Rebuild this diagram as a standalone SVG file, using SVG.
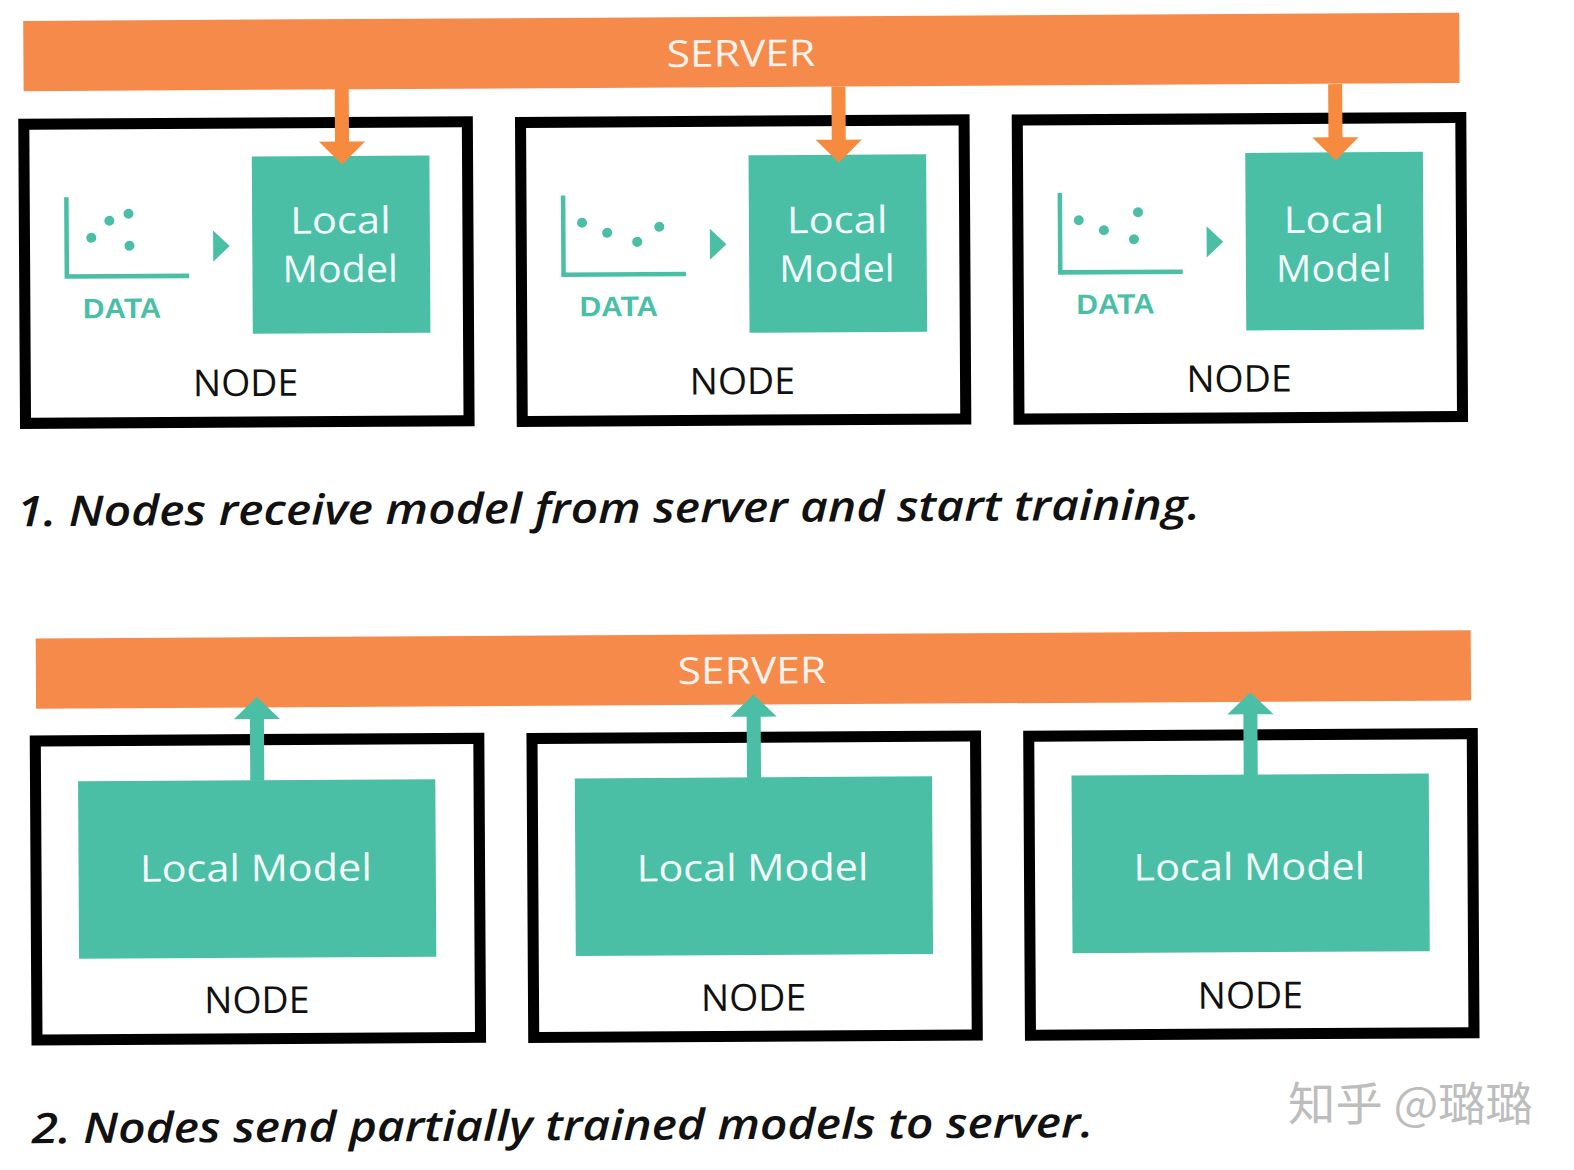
<svg xmlns="http://www.w3.org/2000/svg" width="1574" height="1170" viewBox="0 0 1574 1170">
<style>
text{font-family:"Open Sans","Noto Sans","Liberation Sans",sans-serif;text-anchor:middle}
.srv{fill:#f68a4a}.srvt{fill:#fdf3ec;font-size:37px}
.box{fill:#fff;stroke:#000;stroke-width:11}
.lm{fill:#4abfa6}.lmt{fill:#f2fbf8;font-size:37px}
.nt{fill:#111;font-size:37px}
.dt{fill:#4abfa6;font-family:"Liberation Sans",sans-serif;font-size:28px;font-weight:700}
.ax{fill:none;stroke:#4abfa6;stroke-width:4.5}
.dot,.tri{fill:#4abfa6}
.cap{fill:#111;font-size:42px;font-style:italic;font-weight:600;text-anchor:start}
.o{fill:#f68a3f}.g{fill:#4abfa6}
.wm{fill:#bdbdbd;font-family:"Noto Sans CJK SC","Noto Sans",sans-serif;font-size:46px;text-anchor:start}
</style>
<rect width="1574" height="1170" fill="#fff"/>
<g transform="scale(1.0035) rotate(-0.33)">
<g id="server-1"><rect class="srv" x="23" y="21" width="1431" height="70"/><text class="srvt" x="738" y="70.5" textLength="148" lengthAdjust="spacingAndGlyphs">SERVER</text></g>
<g id="node-1-1">
<rect class="box" x="23" y="124" width="442" height="298"/>
<path class="ax" d="M65 197V276H187"/><circle class="dot" cx="89.6" cy="237.5" r="5"/><circle class="dot" cx="107.7" cy="220.6" r="5"/><circle class="dot" cx="126.8" cy="213.7" r="5"/><circle class="dot" cx="127.6" cy="245.7" r="5"/>
<path class="tri" d="M211 231L227.5 246.5L211 262Z"/>
<text class="dt" x="120" y="317.5" textLength="78" lengthAdjust="spacingAndGlyphs">DATA</text>
<rect class="lm" x="250" y="157.4" width="177" height="176.6"/>
<text class="lmt"><tspan x="338" y="234.5" textLength="100" lengthAdjust="spacingAndGlyphs">Local</tspan><tspan x="337.5" y="283" textLength="115" lengthAdjust="spacingAndGlyphs">Model</tspan></text>
<text class="nt" x="242.5" y="396" textLength="105" lengthAdjust="spacingAndGlyphs">NODE</text>
</g>
<g id="node-1-2" transform="translate(495,1)">
<rect class="box" x="23" y="124" width="442" height="298"/>
<path class="ax" d="M65 197V276H187"/><circle class="dot" cx="83.7" cy="224.3" r="5"/><circle class="dot" cx="108.7" cy="234.5" r="5"/><circle class="dot" cx="138.6" cy="243.7" r="5"/><circle class="dot" cx="160.7" cy="228.8" r="5"/>
<path class="tri" d="M211 231L227.5 246.5L211 262Z"/>
<text class="dt" x="120" y="317.5" textLength="78" lengthAdjust="spacingAndGlyphs">DATA</text>
<rect class="lm" x="250" y="158" width="177" height="177"/>
<text class="lmt"><tspan x="338" y="236" textLength="100" lengthAdjust="spacingAndGlyphs">Local</tspan><tspan x="337.5" y="284.5" textLength="115" lengthAdjust="spacingAndGlyphs">Model</tspan></text>
<text class="nt" x="242.5" y="396" textLength="105" lengthAdjust="spacingAndGlyphs">NODE</text>
</g>
<g id="node-1-3" transform="translate(990,1.5)">
<rect class="box" x="23" y="124" width="442" height="298"/>
<path class="ax" d="M65 197V276H187"/><circle class="dot" cx="83.7" cy="224.2" r="5"/><circle class="dot" cx="108.7" cy="234.3" r="5"/><circle class="dot" cx="138.6" cy="243.5" r="5"/><circle class="dot" cx="142.8" cy="216.5" r="5"/>
<path class="tri" d="M211 231L227.5 246.5L211 262Z"/>
<text class="dt" x="120" y="317.5" textLength="78" lengthAdjust="spacingAndGlyphs">DATA</text>
<rect class="lm" x="250" y="158" width="177" height="177"/>
<text class="lmt"><tspan x="338" y="238" textLength="100" lengthAdjust="spacingAndGlyphs">Local</tspan><tspan x="337.5" y="286.5" textLength="115" lengthAdjust="spacingAndGlyphs">Model</tspan></text>
<text class="nt" x="242.5" y="396" textLength="105" lengthAdjust="spacingAndGlyphs">NODE</text>
</g>
<g id="server-2" transform="translate(8.9,615)"><rect class="srv" x="23" y="21.5" width="1430" height="70"/><text class="srvt" x="736.5" y="70.5" textLength="148" lengthAdjust="spacingAndGlyphs">SERVER</text></g>
<g id="node-2-1" transform="translate(7.9,614.5)">
<rect class="box" x="23" y="124" width="442" height="298"/>
<rect class="lm" x="65.4" y="164.4" width="356" height="177"/>
<text class="lmt" x="242.1" y="265" textLength="231" lengthAdjust="spacingAndGlyphs">Local Model</text>
<text class="nt" x="242.3" y="396.5" textLength="105" lengthAdjust="spacingAndGlyphs">NODE</text>
</g>
<g id="node-2-2" transform="translate(502.9,615)">
<rect class="box" x="23" y="124" width="442" height="298"/>
<rect class="lm" x="65.4" y="164" width="356" height="177"/>
<text class="lmt" x="242.1" y="267" textLength="231" lengthAdjust="spacingAndGlyphs">Local Model</text>
<text class="nt" x="242.3" y="396.5" textLength="105" lengthAdjust="spacingAndGlyphs">NODE</text>
</g>
<g id="node-2-3" transform="translate(997.9,615.5)">
<rect class="box" x="23" y="124" width="442" height="298"/>
<rect class="lm" x="65.4" y="163.5" width="356" height="177"/>
<text class="lmt" x="242.1" y="268.5" textLength="231" lengthAdjust="spacingAndGlyphs">Local Model</text>
<text class="nt" x="242.3" y="396.5" textLength="105" lengthAdjust="spacingAndGlyphs">NODE</text>
</g>
<g id="connectors">
<path class="o" d="M333 90H347V143H363L340 166L317 143H333Z"/>
<path class="o" transform="translate(495,1)" d="M333 90H347V143H363L340 166L317 143H333Z"/>
<path class="o" transform="translate(990,1.5)" d="M333 90H347V143H363L340 166L317 143H333Z"/>
<path class="g" transform="translate(7.9,614.5)" d="M237 165V103.5H221L244 81.5L267 103.5H251V165Z"/>
<path class="g" transform="translate(502.9,615)" d="M237 165V103.5H221L244 81.5L267 103.5H251V165Z"/>
<path class="g" transform="translate(997.9,615.5)" d="M237 165V103.5H221L244 81.5L267 103.5H251V165Z"/>
</g>
<text class="cap" x="14" y="524.5" textLength="1179" lengthAdjust="spacingAndGlyphs">1. Nodes receive model from server and start training.</text>
<text class="cap" x="25" y="1139.5" textLength="1058" lengthAdjust="spacingAndGlyphs">2. Nodes send partially trained models to server.</text>
</g>
<text class="wm" x="1288" y="1120" textLength="245" lengthAdjust="spacingAndGlyphs">知乎 @璐璐</text>
</svg>
